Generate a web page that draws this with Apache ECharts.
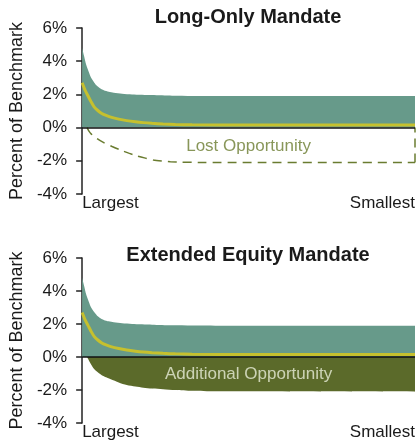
<!DOCTYPE html>
<html>
<head>
<meta charset="utf-8">
<script src="https://cdn.jsdelivr.net/npm/echarts@6/dist/echarts.min.js"></script>
<style>
  html, body { margin: 0; padding: 0; background: #fff; }
  #chart { width: 418px; height: 441px; }
</style>
</head>
<body>
<div id="chart"></div>
<script>
    // x runs 0 (largest) .. 100 (smallest)
    const xLabels = ['Largest', 'Smallest'];
    const yTicks = [-4, -2, 0, 2, 4, 6];
    const titles = ['Long-Only Mandate', 'Extended Equity Mandate'];
    const areaLabels = ['Lost Opportunity', 'Additional Opportunity'];

    // upper edge of the green range band
    const rangeX = [0, 0.6, 1.2, 2, 2.7, 3.6, 4.5, 5.5, 6.5, 8, 9.5, 12, 15, 21, 27, 40, 100];
    const rangeTop = [4.8, 4.3, 3.8, 3.35, 3.0, 2.72, 2.5, 2.35, 2.25, 2.16, 2.1, 2.04, 2.0, 1.96, 1.92, 1.9, 1.9];
    // yellow line
    const medianX = [0, 0.9, 1.8, 2.7, 3.6, 4.7, 5.9, 7.2, 8.6, 11, 13.4, 16, 18.4, 21, 24.3, 28, 33, 50, 100];
    const median = [2.7, 2.25, 1.9, 1.55, 1.25, 1.03, 0.85, 0.73, 0.63, 0.51, 0.42, 0.35, 0.3, 0.26, 0.22, 0.19, 0.17, 0.15, 0.15];
    // dashed outline (top chart)
    const lostX = [1.5, 2, 2.7, 4.5, 6.5, 9, 11.5, 14, 16.3, 19, 21.4, 24, 26.5, 30, 36, 100];
    const lostOpp = [0, -0.2, -0.38, -0.66, -0.9, -1.14, -1.35, -1.54, -1.7, -1.84, -1.95, -2.01, -2.05, -2.08, -2.1, -2.1];
    // olive fill (bottom chart)
    const addX = [1.5, 2.4, 3.6, 4.7, 5.9, 7.2, 8.6, 11, 13.4, 16, 18.4, 21, 24.3, 28, 33, 40, 100];
    const addOpp = [0, -0.35, -0.73, -0.93, -1.1, -1.23, -1.35, -1.54, -1.7, -1.79, -1.86, -1.91, -1.95, -2.0, -2.05, -2.08, -2.1];

    const pair = (xs, ys) => xs.map((x, i) => [x, ys[i]]);

    const FONT = 'Liberation Sans, Arial, sans-serif';
    const GREEN = '#679a8a';
    const OLIVE = '#5b6a2a';
    const YELLOW = '#c6c02e';
    const DASH = '#6a7c30';

    const grids = [
        { left: 78, right: 3, top: 28, height: 166 },
        { left: 78, right: 3, top: 258, height: 165 }
    ];

    function xAxisFor(i) {
        return {
            gridIndex: i, type: 'value', min: 0, max: 100, interval: 100,
            axisLine: { show: false }, axisTick: { show: false }, splitLine: { show: false },
            axisLabel: {
                margin: 1, fontSize: 17, color: '#1a1a1a', fontFamily: FONT,
                alignMinLabel: 'left', alignMaxLabel: 'right',
                formatter: v => v === 0 ? xLabels[0] : xLabels[1]
            }
        };
    }

    function yAxisFor(i) {
        return {
            gridIndex: i, type: 'value', min: yTicks[0], max: yTicks[yTicks.length - 1], interval: 2,
            name: 'Percent of Benchmark', nameLocation: 'middle', nameGap: 52,
            nameTextStyle: { fontSize: 18, color: '#1a1a1a', fontFamily: FONT },
            axisLine: { show: true, lineStyle: { color: '#222', width: 1.5 } },
            axisTick: { show: true, length: 6, lineStyle: { color: '#222', width: 1.5 } },
            splitLine: { show: false },
            axisLabel: { margin: 15, fontSize: 17, color: '#1a1a1a', fontFamily: FONT, formatter: '{value}%' }
        };
    }

    function curve(i, data, style) {
        return Object.assign({
            type: 'line', xAxisIndex: i, yAxisIndex: i, data: data,
            symbol: 'none', smooth: 0.25, silent: true, animation: false
        }, style);
    }

    const series = [];
    [0, 1].forEach(i => {
        series.push(curve(i, pair(rangeX, rangeTop), {
            lineStyle: { width: 0 }, areaStyle: { color: GREEN, opacity: 1 }, z: 1
        }));
        if (i === 0) {
            series.push(curve(i, pair(lostX, lostOpp), {
                lineStyle: { color: DASH, width: 1.5, type: [9, 6] }, z: 2
            }));
            // right-hand closing edge of the dashed outline
            series.push(curve(i, [[100, lostOpp[lostOpp.length - 1]], [100, 0]], {
                smooth: false, lineStyle: { color: DASH, width: 1.5, type: [9, 6] }, z: 2
            }));
        } else {
            series.push(curve(i, pair(addX, addOpp), {
                lineStyle: { width: 0 }, areaStyle: { color: OLIVE, opacity: 1 }, z: 2
            }));
        }
        series.push(curve(i, pair(medianX, median), {
            lineStyle: { color: YELLOW, width: 3 }, z: 4,
            markLine: {
                silent: true, symbol: 'none', label: { show: false },
                lineStyle: { color: '#111', width: 1.5, type: 'solid' },
                data: [{ yAxis: 0 }]
            }
        }));
        series.push({
            type: 'scatter', xAxisIndex: i, yAxisIndex: i, silent: true, animation: false,
            symbolSize: 0, data: [[50, i === 0 ? -1.15 : -1.03]], z: 5,
            label: {
                show: true, position: 'inside', formatter: areaLabels[i],
                fontSize: 17, fontFamily: FONT, color: i === 0 ? DASH : '#e8edd8'
            }
        });
    });

    const option = {
        backgroundColor: '#fff',
        animation: false,
        title: titles.map((t, i) => ({
            text: t, left: 248, top: i === 0 ? 7 : 245, textAlign: 'center', padding: 0,
            textStyle: { fontSize: 20, fontWeight: 'bold', color: '#1a1a1a', fontFamily: FONT }
        })),
        grid: grids,
        xAxis: [xAxisFor(0), xAxisFor(1)],
        yAxis: [yAxisFor(0), yAxisFor(1)],
        series: series
    };

    echarts.init(document.getElementById('chart')).setOption(option);
</script>
</body>
</html>
